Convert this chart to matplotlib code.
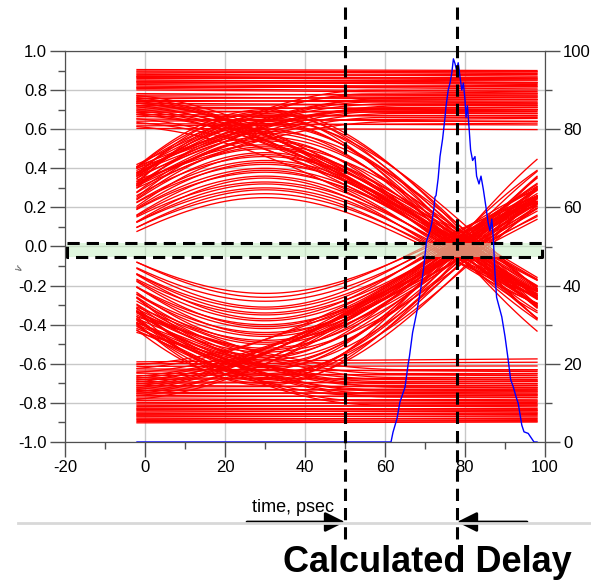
import matplotlib
matplotlib.use("Agg")
import matplotlib.pyplot as plt
import matplotlib.transforms as mtransforms
from matplotlib.lines import Line2D
from matplotlib.patches import FancyArrowPatch
from matplotlib.ticker import MultipleLocator
import numpy as np

plt.rcParams['font.family'] = ['Liberation Sans', 'DejaVu Sans']
plt.rcParams['axes.unicode_minus'] = False

# ---- eye traces ----
# flat upper band: level at t=-2 and at t=98
u_start = [0.905, 0.898, 0.893, 0.887, 0.881, 0.876, 0.870, 0.864, 0.859, 0.852,
           0.846, 0.841, 0.835, 0.828, 0.821, 0.815, 0.808, 0.801, 0.782, 0.774,
           0.766, 0.757, 0.748, 0.741, 0.733, 0.722, 0.714, 0.703, 0.694, 0.686,
           0.675, 0.664, 0.652, 0.641, 0.628, 0.617, 0.604, 0.868, 0.842, 0.812]
u_end = [0.900, 0.893, 0.885, 0.894, 0.872, 0.880, 0.861, 0.852, 0.866, 0.840,
         0.851, 0.829, 0.838, 0.816, 0.806, 0.824, 0.792, 0.785, 0.770, 0.781,
         0.751, 0.764, 0.735, 0.752, 0.720, 0.728, 0.701, 0.712, 0.682, 0.698,
         0.667, 0.671, 0.640, 0.655, 0.622, 0.631, 0.598, 0.858, 0.835, 0.818]
# flat lower band
l_start = [-0.902, -0.896, -0.889, -0.884, -0.878, -0.871, -0.866, -0.858, -0.853, -0.847,
           -0.840, -0.834, -0.826, -0.819, -0.812, -0.805, -0.797, -0.788, -0.779, -0.770,
           -0.762, -0.754, -0.745, -0.737, -0.728, -0.719, -0.710, -0.700, -0.691, -0.680,
           -0.671, -0.660, -0.648, -0.637, -0.626, -0.613, -0.600, -0.590, -0.862, -0.830]
l_end = [-0.898, -0.890, -0.894, -0.879, -0.884, -0.866, -0.872, -0.851, -0.860, -0.839,
         -0.846, -0.828, -0.833, -0.812, -0.820, -0.797, -0.804, -0.781, -0.790, -0.761,
         -0.772, -0.744, -0.756, -0.729, -0.738, -0.712, -0.722, -0.690, -0.703, -0.671,
         -0.684, -0.652, -0.661, -0.632, -0.640, -0.611, -0.592, -0.575, -0.855, -0.838]
# mid traces falling through zero: peak amplitude, zero-crossing time
c_amp = [0.25, 0.27, 0.29, 0.30, 0.32, 0.33, 0.35, 0.36, 0.38, 0.39, 0.40, 0.42,
         0.43, 0.44, 0.46, 0.47, 0.48, 0.50, 0.51, 0.52, 0.54, 0.55, 0.56, 0.58,
         0.59, 0.60, 0.62, 0.63, 0.64, 0.65, 0.66, 0.67, 0.68, 0.69, 0.70]
c_cross = [70, 72, 71, 74, 73, 76, 72, 75, 78, 74, 77, 80, 76, 79, 82, 75, 78, 81,
           77, 84, 79, 76, 82, 80, 85, 78, 83, 81, 79, 86, 82, 77, 84, 80, 83]
# mid traces rising through zero
d_amp = [0.24, 0.26, 0.28, 0.31, 0.32, 0.34, 0.35, 0.37, 0.38, 0.40, 0.41, 0.42,
         0.44, 0.45, 0.46, 0.48, 0.49, 0.50, 0.52, 0.53, 0.54, 0.56, 0.57, 0.58,
         0.60, 0.61, 0.62, 0.63, 0.65, 0.66, 0.67, 0.68, 0.69, 0.70, 0.71]
d_cross = [71, 70, 73, 72, 75, 74, 77, 73, 76, 79, 75, 78, 81, 76, 80, 83, 77, 79,
           82, 78, 85, 80, 76, 83, 81, 79, 84, 78, 86, 82, 80, 83, 77, 85, 81]
# upper-band traces falling through the x at t~28, then through zero
uc_amp = [0.78, 0.76, 0.74, 0.77, 0.72, 0.75, 0.70, 0.73, 0.68, 0.71, 0.66, 0.74, 0.69, 0.64, 0.62]
uc_cross = [80, 78, 82, 76, 84, 79, 81, 77, 83, 80, 78, 85, 79, 82, 76]
ld_amp = [0.79, 0.75, 0.73, 0.77, 0.71, 0.74, 0.69, 0.72, 0.67, 0.76, 0.65, 0.70, 0.68, 0.63, 0.61]
ld_cross = [79, 81, 77, 83, 80, 76, 84, 78, 82, 79, 85, 77, 81, 78, 83]
# mid traces rising into the upper band: start, plateau level, plateau time
cu_start = [0.30, 0.32, 0.33, 0.35, 0.36, 0.37, 0.38, 0.39, 0.40, 0.41, 0.42, 0.34, 0.31, 0.38, 0.40]
cu_level = [0.66, 0.70, 0.68, 0.74, 0.72, 0.78, 0.70, 0.76, 0.80, 0.73, 0.77, 0.64, 0.69, 0.75, 0.71]
cu_flat = [60, 55, 62, 58, 65, 56, 60, 63, 57, 61, 54, 64, 59, 58, 62]
dl_start = [-0.31, -0.33, -0.34, -0.35, -0.37, -0.38, -0.39, -0.40, -0.41, -0.42, -0.43, -0.36, -0.32, -0.39, -0.44]
dl_level = [-0.65, -0.71, -0.67, -0.75, -0.72, -0.79, -0.69, -0.77, -0.81, -0.74, -0.76, -0.63, -0.70, -0.73, -0.68]
dl_flat = [61, 56, 63, 57, 64, 55, 59, 62, 58, 60, 53, 65, 58, 57, 63]

# ---- crossing histogram (right axis) ----
hist_t = [-2, 61.5, 62.0, 63.0, 63.75, 64.2, 65.0, 65.8, 66.1, 66.9, 67.1, 67.9, 68.75,
          69.2, 69.6, 70.4, 71.25, 71.7, 72.25, 72.5, 72.75, 73.3, 73.75, 74.4, 75.0,
          75.25, 75.8, 76.25, 76.7, 77.1, 77.5, 77.9, 78.3, 78.75, 79.2, 79.6, 80.0,
          80.25, 80.6, 81.0, 81.4, 81.9, 82.5, 82.9, 83.5, 84.0, 84.6, 85.25, 85.8,
          86.25, 86.7, 87.1, 87.5, 87.9, 89.2, 90.0, 90.8, 91.4, 92.1, 92.75, 93.3,
          94.2, 94.75, 95.8, 97.25, 98]
hist_v = [0, 0, 2.5, 6, 10.3, 11.6, 14, 20, 21.8, 28, 29, 33, 38,
          41, 44, 51.5, 54, 56, 60, 62.7, 63, 67.5, 73, 77.5, 83,
          85.8, 90, 91.8, 94.4, 98, 96.8, 95, 97, 93.4, 90, 91.8, 87.5,
          83, 86, 80.6, 74.7, 72, 73, 68, 66, 68, 64.5, 60, 56,
          54, 57, 51.7, 43, 37, 32, 27, 21, 16, 14, 11.6, 9.9,
          4.3, 2.6, 2.2, 0, 0]

delay_marks = [50, 78]
box_low, box_high = -0.054, 0.018

t = np.linspace(-2, 98, 300)

fig = plt.figure(figsize=(5.91, 5.82), dpi=100)
ax = fig.add_axes([65 / 591, 140 / 582, 480 / 591, 391 / 582])

red = dict(color='#ff0000', lw=0.95)
for a, b in zip(u_start, u_end):
    ax.plot([-2, 98], [a, b], **red)
for a, b in zip(l_start, l_end):
    ax.plot([-2, 98], [a, b], **red)
for p, tc in zip(c_amp, c_cross):
    ax.plot(t, p * np.cos(np.pi * (t - 30) / (2 * (tc - 30))), **red)
for p, tc in zip(d_amp, d_cross):
    ax.plot(t, -p * np.cos(np.pi * (t - 30) / (2 * (tc - 30))), **red)
for p, tc in zip(uc_amp, uc_cross):
    ax.plot(t, p * np.cos(np.pi * (t + 10) / (2 * (tc + 10))), **red)
for p, tc in zip(ld_amp, ld_cross):
    ax.plot(t, -p * np.cos(np.pi * (t + 10) / (2 * (tc + 10))), **red)
for y0, lv, tf in zip(cu_start, cu_level, cu_flat):
    u = np.clip((t + 2) / (tf + 2), 0, 1)
    ax.plot(t, y0 + (lv - y0) * np.sin(np.pi / 2 * u), **red)
for y0, lv, tf in zip(dl_start, dl_level, dl_flat):
    u = np.clip((t + 2) / (tf + 2), 0, 1)
    ax.plot(t, y0 + (lv - y0) * np.sin(np.pi / 2 * u), **red)

# green threshold box
ax.fill_between([-19.5, 99.25], box_low, box_high, color='#c8f0c3', alpha=0.55, lw=0, zorder=5)
ax.plot([-19.5, 99.25, 99.25, -19.5, -19.5], [box_high, box_high, box_low, box_low, box_high],
        color='black', lw=2.2, dashes=(4, 2.3), zorder=6)

ax.set_xlim(-20, 100)
ax.set_ylim(-1, 1)
ax.xaxis.set_major_locator(MultipleLocator(20))
ax.xaxis.set_minor_locator(MultipleLocator(10))
ax.yaxis.set_major_locator(MultipleLocator(0.2))
ax.yaxis.set_minor_locator(MultipleLocator(0.1))
ax.yaxis.set_major_formatter(plt.FormatStrFormatter('%.1f'))
ax.grid(True, which='major', color='#c8c8c8', lw=1)
ax.set_axisbelow(True)
ax.tick_params(which='major', length=11, width=1, color='#505050', labelsize=12, pad=2)
ax.tick_params(which='minor', length=5, width=1, color='#505050')
for s in ax.spines.values():
    s.set_color('#505050')

ax2 = ax.twinx()
ax2.plot(hist_t, hist_v, color='#0000ff', lw=1)
ax2.set_ylim(0, 100)
ax2.yaxis.set_major_locator(MultipleLocator(20))
ax2.yaxis.set_minor_locator(MultipleLocator(10))
ax2.tick_params(which='major', length=11, width=1, color='#505050', labelsize=12, pad=2)
ax2.tick_params(which='minor', length=5, width=1, color='#505050')
for s in ax2.spines.values():
    s.set_color('#505050')

# dashed delay markers running beyond the axes
trans = mtransforms.blended_transform_factory(ax2.transData, ax2.transAxes)
for xm in delay_marks:
    ax2.plot([xm, xm], [1.1125, -0.25], transform=trans, clip_on=False,
             color='black', lw=2.2, dashes=(4, 2.3), zorder=10)

fig.text(20 / 591, 1 - 268 / 582, 'v', fontsize=7, rotation=60, color='#404040',
         ha='center', va='center')

# bottom annotation
fig.add_artist(Line2D([18 / 591, 1.0], [1 - 523 / 582] * 2, color='#d8d8d8', lw=2))
fig.add_artist(FancyArrowPatch((247 / 591, 1 - 522 / 582), (345 / 591, 1 - 522 / 582),
                               transform=fig.transFigure, arrowstyle='-|>,head_length=12,head_width=6',
                               color='black', lw=2, shrinkA=0, shrinkB=0, mutation_scale=1))
fig.add_artist(FancyArrowPatch((527 / 591, 1 - 522 / 582), (457 / 591, 1 - 522 / 582),
                               transform=fig.transFigure, arrowstyle='-|>,head_length=12,head_width=6',
                               color='black', lw=2, shrinkA=0, shrinkB=0, mutation_scale=1))
fig.text(252 / 591, 1 - 512 / 582, 'time, psec', fontsize=13, ha='left', va='baseline')
fig.text(283 / 591, 1 - 572 / 582, 'Calculated Delay', fontsize=26, fontweight='bold',
         ha='left', va='baseline')

fig.savefig('out.png', dpi=100)
